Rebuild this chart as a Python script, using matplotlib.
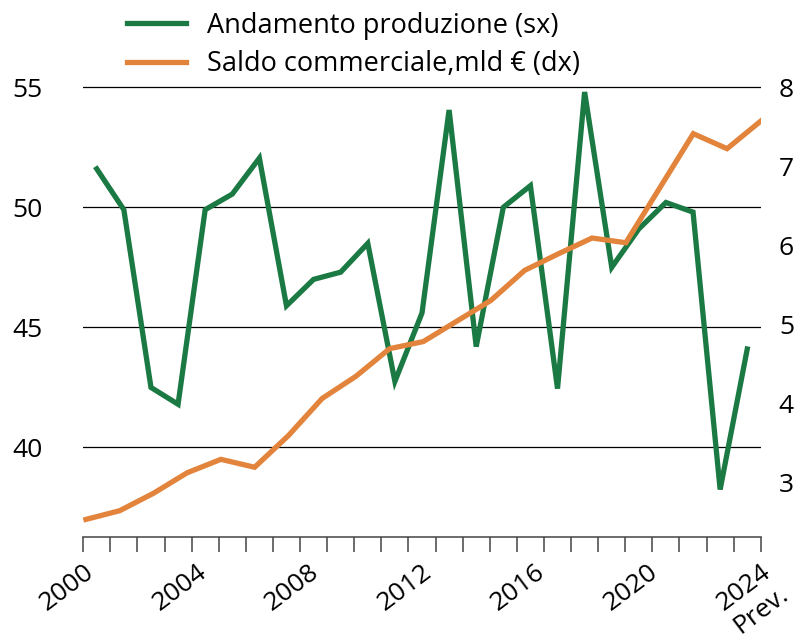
import numpy as np
import matplotlib
matplotlib.use('Agg')
import matplotlib.pyplot as plt
from matplotlib.ticker import FixedLocator

plt.rcParams['font.family'] = ['Open Sans', 'DejaVu Sans']

GREEN = '#1b7a43'
ORANGE = '#e3843c'

# dati
anni = list(range(2000, 2025))
produzione = [51.6, 49.9, 42.5, 41.8, 49.9, 50.55, 52.05, 45.9, 47.0, 47.3,
              48.5, 42.75, 45.6, 54.05, 44.2, 50.0, 50.9, 42.45, 54.8, 47.5,
              49.1, 50.2, 49.8, 38.25, 44.1]
saldo = [2.53, 2.64, 2.86, 3.12, 3.29, 3.19, 3.59, 4.06, 4.34, 4.69, 4.78,
         5.04, 5.30, 5.68, 5.89, 6.09, 6.03, 6.72, 7.41, 7.22, 7.57]
etichette_anni = ['2000', '2004', '2008', '2012', '2016', '2020', '2024\nPrev.']


def create_graph():
    fig = plt.figure(figsize=(8, 6.4), dpi=100)
    ax = fig.add_axes([0.104, 0.161, 0.847, 0.714])
    ax2 = ax.twinx()

    x_prod = np.arange(len(anni))
    x_saldo = np.linspace(-0.4, len(anni) - 0.5, len(saldo))

    # orange sits on top of the green line
    l1, = ax.plot(x_prod, produzione, color=GREEN, lw=3.8,
                  solid_joinstyle='miter', label='Andamento produzione (sx)')
    l2, = ax2.plot(x_saldo, saldo, color=ORANGE, lw=3.8,
                   solid_joinstyle='miter', label='Saldo commerciale,mld € (dx)')

    ax.set_xlim(-0.5, len(anni) - 0.5)
    ax.set_ylim(36.275, 55.3)
    ax2.set_ylim(2.308, 8.089)

    ax.set_yticks([40, 45, 50, 55])
    ax2.set_yticks([3, 4, 5, 6, 7, 8])
    ax.grid(axis='y', color='black', lw=0.9)
    ax.tick_params(axis='y', length=0, pad=29, labelsize=19)
    ax2.tick_params(axis='y', length=0, pad=13, labelsize=19)

    # tick marks at the band edges, labels spread over the full width
    ax.xaxis.remove_overlapping_locs = False
    ax.xaxis.set_minor_locator(FixedLocator(np.arange(-0.5, len(anni), 1)))
    pos_lab = [-0.5 + (int(t[:4]) - 2000) * len(anni) / 24 for t in etichette_anni]
    ax.set_xticks(pos_lab)
    ax.set_xticklabels(etichette_anni, rotation=37, ha='right', va='top',
                       rotation_mode='anchor', multialignment='center', fontsize=19)
    ax.tick_params(axis='x', which='major', length=0, pad=16)
    ax.tick_params(axis='x', which='minor', length=11, width=1.1, color='#444444')

    for a in (ax, ax2):
        for s in ('top', 'left', 'right', 'bottom'):
            a.spines[s].set_visible(False)
    ax.spines['bottom'].set_visible(True)
    ax.spines['bottom'].set_color('#444444')
    ax.spines['bottom'].set_linewidth(1.1)

    fig.legend(handles=[l1, l2], loc='upper left', bbox_to_anchor=(0.128, 1.02),
               frameon=False, fontsize=19.5, handlelength=2.2, handletextpad=0.75,
               labelspacing=0.4)

    fig.savefig('out.png', dpi=100)


if __name__ == '__main__':
    create_graph()
